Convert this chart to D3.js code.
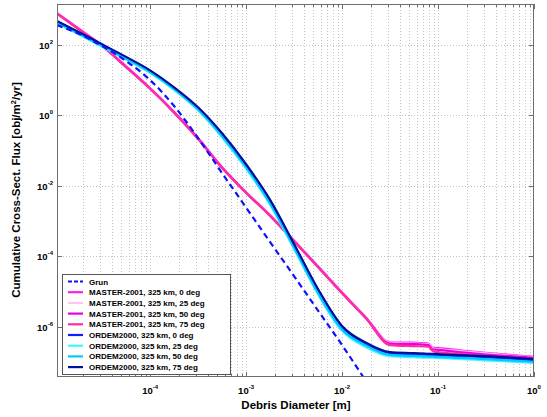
<!DOCTYPE html>
<html>
<head>
<meta charset="utf-8">
<script src="https://cdn.jsdelivr.net/npm/d3@7"></script>
<style>
  body { margin: 0; background: #fff; }
  svg { display: block; font-family: "Liberation Sans", Arial, sans-serif; font-weight: bold; }
</style>
</head>
<body>
<div id="chart"></div>
<script>
// debris diameters [m] shared by the MASTER / ORDEM curves
const diameters = [1.07e-5, 1.78e-5, 3.16e-5, 5.62e-5, 1e-4, 1.78e-4, 3.16e-4, 5.62e-4, 1e-3, 1.78e-3,
    3.16e-3, 5.62e-3, 1e-2, 1.78e-2, 3.16e-2, 5.62e-2, 7.94e-2, 8.91e-2, 0.1, 0.178, 0.316, 0.562, 1];
const grunDiameters = [1.07e-5, 1.78e-5, 3.16e-5, 5.62e-5, 1e-4, 1.78e-4, 3.16e-4, 5.62e-4, 1e-3, 1.78e-3,
    3.16e-3, 5.62e-3, 1e-2, 1.78e-2];

const grun = [3.7e2, 2.12e2, 9.4e1, 3.5e1, 1.01e1, 1.85, 2.28e-1, 2.31e-2, 2.42e-3, 2.53e-4, 2.74e-5, 2.86e-6, 3.0e-7, 2.8e-8];

const master0 = [8.1e2, 3.0e2, 9.8e1, 2.5e1, 6.0, 1.26, 2.29e-1, 3.4e-2, 6.6e-3, 1.48e-3, 2.8e-4, 5.2e-5, 9.5e-6,
    1.82e-6, 3.6e-7, 3.5e-7, 3.3e-7, 2.5e-7, 2.45e-7, 2.1e-7, 1.8e-7, 1.58e-7, 1.38e-7];
const master25 = [8.0e2, 2.95e2, 9.6e1, 2.45e1, 5.9, 1.24, 2.25e-1, 3.35e-2, 6.5e-3, 1.45e-3, 2.75e-4, 5.1e-5, 9.3e-6,
    1.78e-6, 3.5e-7, 3.3e-7, 3.2e-7, 2.4e-7, 2.3e-7, 2.0e-7, 1.74e-7, 1.51e-7, 1.35e-7];
const master50 = [7.9e2, 2.9e2, 9.5e1, 2.4e1, 5.8, 1.22, 2.2e-1, 3.3e-2, 6.4e-3, 1.42e-3, 2.7e-4, 5.0e-5, 9.1e-6,
    1.74e-6, 3.3e-7, 3.2e-7, 3.0e-7, 2.24e-7, 2.2e-7, 1.86e-7, 1.62e-7, 1.45e-7, 1.29e-7];
const master75 = [7.8e2, 2.9e2, 9.4e1, 2.35e1, 5.7, 1.2, 2.15e-1, 3.2e-2, 6.3e-3, 1.4e-3, 2.65e-4, 4.9e-5, 8.9e-6,
    1.7e-6, 3.0e-7, 2.8e-7, 2.7e-7, 2.0e-7, 1.9e-7, 1.66e-7, 1.48e-7, 1.32e-7, 1.2e-7];

const ordem0 = [4.6e2, 2.26e2, 1.0e2, 4.4e1, 1.82e1, 6.0, 1.62, 2.96e-1, 3.9e-2, 3.7e-3, 2.1e-4, 1.1e-5, 9.8e-7,
    3.2e-7, 1.78e-7, 1.66e-7, 1.58e-7, 1.58e-7, 1.55e-7, 1.45e-7, 1.35e-7, 1.23e-7, 1.12e-7];
const ordem25 = [4.2e2, 2.04e2, 8.9e1, 3.9e1, 1.62e1, 5.3, 1.4, 2.4e-1, 3.1e-2, 2.9e-3, 1.62e-4, 8.3e-6, 7.6e-7,
    2.6e-7, 1.45e-7, 1.35e-7, 1.32e-7, 1.32e-7, 1.29e-7, 1.2e-7, 1.1e-7, 1.02e-7, 9.3e-8];
const ordem50 = [4.4e2, 2.14e2, 9.3e1, 4.1e1, 1.7e1, 5.6, 1.48, 2.6e-1, 3.4e-2, 3.16e-3, 1.78e-4, 9.1e-6, 8.3e-7,
    2.9e-7, 1.58e-7, 1.48e-7, 1.41e-7, 1.41e-7, 1.38e-7, 1.29e-7, 1.2e-7, 1.1e-7, 1.0e-7];
const ordem75 = [4.8e2, 2.37e2, 1.05e2, 4.6e1, 1.91e1, 6.3, 1.7, 3.1e-1, 4.1e-2, 4.0e-3, 2.24e-4, 1.17e-5, 1.05e-6,
    3.5e-7, 1.9e-7, 1.78e-7, 1.7e-7, 1.7e-7, 1.66e-7, 1.55e-7, 1.45e-7, 1.32e-7, 1.2e-7];

const seriesNames = ['Grun', 'MASTER-2001, 325 km, 0 deg', 'MASTER-2001, 325 km, 25 deg',
    'MASTER-2001, 325 km, 50 deg', 'MASTER-2001, 325 km, 75 deg', 'ORDEM2000, 325 km, 0 deg',
    'ORDEM2000, 325 km, 25 deg', 'ORDEM2000, 325 km, 50 deg', 'ORDEM2000, 325 km, 75 deg'];
const seriesColors = ['#1010ff', '#ff1ee6', '#ffc4f4', '#e600e6', '#ff2ea0', '#0a1eff', '#40f4ff', '#00c8ff', '#00109a'];

const xTickExps = [-4, -3, -2, -1, 0];
const yTickExps = [2, 0, -2, -4, -6];

const width = 547, height = 417;
const margin = {left: 57, right: 13, top: 4, bottom: 40};

const x = d3.scaleLog()
    .domain([Math.pow(10, -4.97), 1])
    .range([margin.left, width - margin.right]);
const y = d3.scaleLog()
    .domain([Math.pow(10, -7.43), Math.pow(10, 3.165)])
    .range([height - margin.bottom, margin.top]);

const svg = d3.select('#chart').append('svg')
    .attr('width', width)
    .attr('height', height);

const x0 = x.range()[0], x1 = x.range()[1];
const y0 = y.range()[0], y1 = y.range()[1];

// x ticks: 1..9 per decade
const xTicks = [];
for (let e = -5; e <= 0; e++) {
    for (let m = 1; m < 10; m++) {
        const v = m * Math.pow(10, e);
        if (v >= x.domain()[0] && v <= 1.0001) xTicks.push({v: v, major: m === 1});
    }
}
const yTicks = yTickExps.map(e => Math.pow(10, e));

// grid
const grid = svg.append('g')
    .attr('stroke', '#c4c4c4')
    .attr('stroke-width', 1)
    .attr('stroke-dasharray', '1,2');
grid.selectAll('.gx').data(xTicks.filter(d => x(d.v) > x0 + 1 && x(d.v) < x1 - 1)).join('line')
    .attr('x1', d => Math.round(x(d.v)) + 0.5).attr('x2', d => Math.round(x(d.v)) + 0.5)
    .attr('y1', y1).attr('y2', y0);
grid.selectAll('.gy').data(yTicks).join('line')
    .attr('x1', x0).attr('x2', x1)
    .attr('y1', d => Math.round(y(d)) + 0.5).attr('y2', d => Math.round(y(d)) + 0.5);

// curves
svg.append('clipPath').attr('id', 'plotclip')
  .append('rect').attr('x', x0).attr('y', y1).attr('width', x1 - x0).attr('height', y0 - y1);

const line = d3.line()
    .x(d => x(d[0]))
    .y(d => y(d[1]))
    .curve(d3.curveMonotoneX);

const curves = [grun, master0, master25, master50, master75, ordem0, ordem25, ordem50, ordem75];
const plot = svg.append('g').attr('clip-path', 'url(#plotclip)');
// draw the model curves first, then the dashed Grun line on top
curves.forEach((vals, i) => {
    if (i === 0) return;
    plot.append('path')
        .datum(d3.zip(diameters, vals))
        .attr('fill', 'none')
        .attr('stroke', seriesColors[i])
        .attr('stroke-width', 2.2)
        .attr('stroke-linejoin', 'round')
        .attr('d', line);
});
plot.append('path')
    .datum(d3.zip(grunDiameters, grun))
    .attr('fill', 'none')
    .attr('stroke', seriesColors[0])
    .attr('stroke-width', 2.2)
    .attr('stroke-dasharray', '6,4')
    .attr('d', line);

// frame + ticks (inward, all four sides)
const axisColor = '#6e6e6e';
svg.append('rect')
    .attr('x', x0 + 0.5).attr('y', y1 + 0.5)
    .attr('width', x1 - x0 - 1).attr('height', y0 - y1 - 1)
    .attr('fill', 'none').attr('stroke', axisColor);

const ticks = svg.append('g').attr('stroke', axisColor).attr('stroke-width', 1);
xTicks.forEach(d => {
    const px = Math.round(x(d.v)) + 0.5;
    const len = d.major ? 5 : 3;
    ticks.append('line').attr('x1', px).attr('x2', px).attr('y1', y0).attr('y2', y0 - len);
    ticks.append('line').attr('x1', px).attr('x2', px).attr('y1', y1).attr('y2', y1 + len);
});
yTicks.forEach(v => {
    const py = Math.round(y(v)) + 0.5;
    ticks.append('line').attr('x1', x0).attr('x2', x0 + 5).attr('y1', py).attr('y2', py);
    ticks.append('line').attr('x1', x1).attr('x2', x1 - 5).attr('y1', py).attr('y2', py);
});

// tick labels
function powLabel(g, exp) {
    g.append('tspan').text('10');
    g.append('tspan').attr('dy', -5).attr('font-size', 6).text(exp < 0 ? '-' + (-exp) : exp);
}
xTickExps.forEach(e => {
    const t = svg.append('text')
        .attr('x', x(Math.pow(10, e)))
        .attr('y', y0 + 17)
        .attr('font-size', 9.5)
        .attr('text-anchor', 'middle');
    powLabel(t, e);
});
yTickExps.forEach(e => {
    const t = svg.append('text')
        .attr('x', x0 - 4)
        .attr('y', y(Math.pow(10, e)) + 4)
        .attr('font-size', 9.5)
        .attr('text-anchor', 'end');
    powLabel(t, e);
});

// axis titles
svg.append('text')
    .attr('x', 296).attr('y', 409)
    .attr('text-anchor', 'middle')
    .attr('font-size', 11.5)
    .text('Debris Diameter [m]');

const yl = svg.append('text')
    .attr('transform', 'translate(20,190) rotate(-90)')
    .attr('text-anchor', 'middle')
    .attr('font-size', 11.5);
yl.append('tspan').text('Cumulative Cross-Sect. Flux [obj/m');
yl.append('tspan').attr('dy', -4).attr('font-size', 7.5).text('2');
yl.append('tspan').attr('dy', 4).text('/yr]');

// legend
const lg = svg.append('g').attr('transform', 'translate(62,274)');
lg.append('rect')
    .attr('x', 0.5).attr('y', 0.5).attr('width', 168).attr('height', 100)
    .attr('fill', '#fff').attr('stroke', '#555');
seriesNames.forEach((name, i) => {
    const ry = 7.5 + i * 10.7;
    lg.append('line')
        .attr('x1', 6).attr('x2', 21).attr('y1', ry).attr('y2', ry)
        .attr('stroke', seriesColors[i]).attr('stroke-width', 2.2)
        .attr('stroke-dasharray', i === 0 ? '4,2' : null);
    lg.append('text')
        .attr('x', 27).attr('y', ry + 3)
        .attr('font-size', 8)
        .text(name);
});
</script>
</body>
</html>
